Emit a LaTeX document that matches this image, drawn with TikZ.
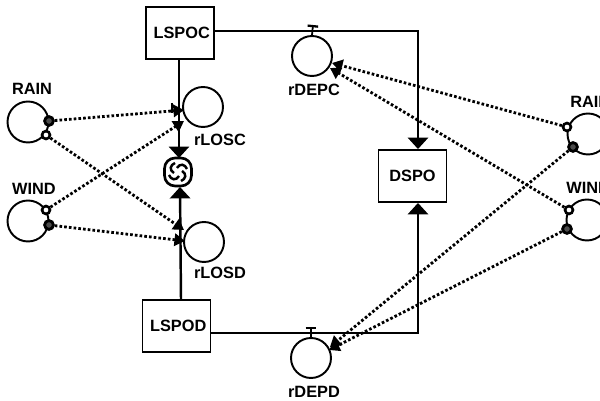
\documentclass[tikz,border=0pt]{standalone}
\usepackage{fontspec}
\setmainfont{Liberation Sans}
\usetikzlibrary{arrows.meta}
\begin{document}
\begin{tikzpicture}[
	x=0.02cm, y=-0.02cm,
	stock/.style={ draw, line width=1.1pt, inner sep=0pt, minimum width=1.36cm, minimum height=1.04cm, font=\fontsize{9.3}{11}\bfseries },
	conv/.style={ circle, draw, line width=1.1pt, inner sep=0pt, minimum size=0.8cm },
	portb/.style={ circle, draw, line width=1.6pt, fill=black!70, inner sep=0pt, minimum size=5pt },
	portw/.style={ circle, draw, line width=1.5pt, fill=white, inner sep=0pt, minimum size=4.5pt },
	lab/.style={ inner sep=0pt, font=\fontsize{9.3}{11}\bfseries },
	flow/.style={ line width=1.4pt, -{Triangle[length=6.5pt,width=11.5pt]} },
	link/.style={ line width=1.6pt, dash pattern=on 1.5pt off 1.2pt, -{Triangle[length=6pt,width=7pt]} }
]
\useasboundingbox (0,0) rectangle (600,401);

\node at (180,33) (lspoc) [stock] {\hspace{2pt}LSPOC};
\node at (176.5,326) (lspod) [stock] {\hspace{2pt}LSPOD};
\node at (412.5,176) (dspo) [stock] {DSPO};

\node at (178,172) (valve) [draw, line width=1.5pt, rounded corners=6pt, inner sep=0pt, minimum width=0.54cm, minimum height=0.56cm] {};
\foreach \a in {0,90,180,270}
	\draw[line width=1.4pt, shift={(valve.center)}, rotate=\a] (-1,-4) .. controls (2,-9) and (7,-8) .. (9,-3);

\coordinate (lspocdn) at (179,59);
\coordinate (valveup) at (179,158);
\draw[flow] (lspocdn) -- (valveup);
\coordinate (lspodup) at (181,299);
\coordinate (valvedn) at (180,187);
\draw[flow] (lspodup) -- (valvedn);

\coordinate (elbowc) at (418,31);
\coordinate (elbowd) at (418,333);
\draw[flow] (lspoc.east |- elbowc) -- (elbowc) -- (elbowc |- dspo.north);
\draw[flow] (lspod.east |- elbowd) -- (elbowd) -- (elbowd |- dspo.south);

\node at (203,107) (rlosc) [conv] {};
\node at (204,242) (rlosd) [conv] {};
\node at (312,56) (rdepc) [conv] {};
\node at (311,358) (rdepd) [conv] {};
\node at (220,140) (trlosc) [lab] {rLOSC};
\node at (220,273) (trlosd) [lab] {rLOSD};
\node at (314,90) (trdepc) [lab] {rDEPC};
\node at (314,392) (trdepd) [lab] {rDEPD};

\coordinate (barc) at (313,25);
\coordinate (bard) at (311,327);
\draw[line width=1pt, -{Bar[width=6pt,line width=1.3pt]}] (rdepc.north) -- (barc);
\draw[line width=1pt, -{Bar[width=6pt,line width=1.3pt]}] (rdepd.north) -- (bard);

\node at (28,122) (rainl) [conv,minimum size=0.82cm] {};
\node at (28,221) (windl) [conv,minimum size=0.82cm] {};
\node at (588,134) (rainr) [conv,minimum size=0.82cm] {};
\node at (587,220) (windr) [conv,minimum size=0.82cm] {};
\node at (32,89) (trainl) [lab] {RAIN};
\node at (34,189) (twindl) [lab] {WIND};
\node at (570,102) (trainr) [lab,anchor=west] {RAIN};
\node at (566,188) (twindr) [lab,anchor=west] {WIND};

\node at (49,121) (rla) [portb] {};
\node at (46,135) (rlb) [portw] {};
\node at (46,210) (wla) [portw] {};
\node at (49,225) (wlb) [portb] {};
\node at (567,127) (rra) [portw] {};
\node at (573,147) (rrb) [portb] {};
\node at (569,210) (wra) [portw] {};
\node at (567,229) (wrb) [portb] {};

\coordinate (ilosc) at (184,110);
\coordinate (ilosca) at (184,121);
\coordinate (ilosd) at (184,230);
\coordinate (ilosda) at (185,241);
\coordinate (idepc) at (332,63);
\coordinate (idepca) at (330,68);
\coordinate (idepd) at (330,347);
\coordinate (idepda) at (329,350);

\draw[link] (rla) -- (ilosc);
\draw[link] (rlb) -- (ilosd);
\draw[link] (wla) -- (ilosca);
\draw[link] (wlb) -- (ilosda);
\draw[link] (rra) -- (idepc);
\draw[link] (wra) -- (idepca);
\draw[link] (rrb) -- (idepd);
\draw[link] (wrb) -- (idepda);

\coordinate (marka) at (172,103);
\coordinate (markb) at (172,113);
\draw[line width=1pt] (marka) -- (markb);

\end{tikzpicture}
\end{document}
